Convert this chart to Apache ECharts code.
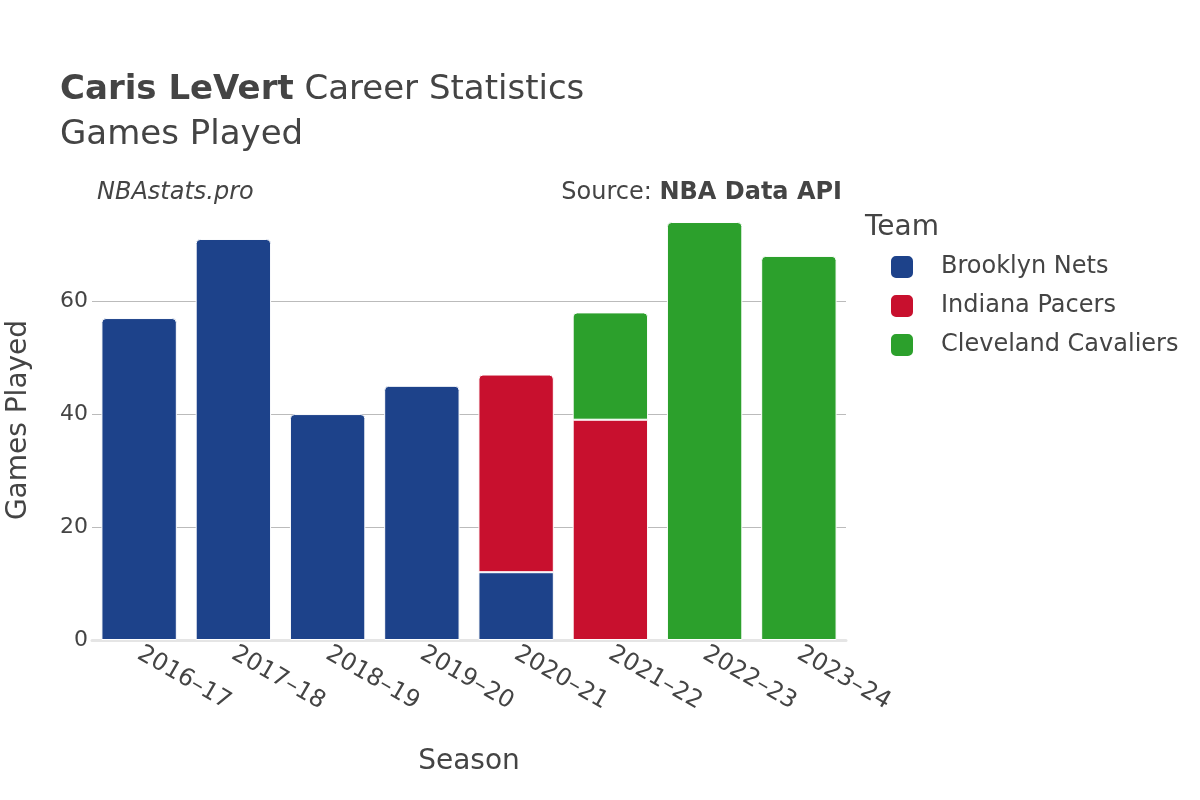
<!DOCTYPE html>
<html>
<head>
<meta charset="utf-8">
<script src="https://cdn.jsdelivr.net/npm/echarts@6/dist/echarts.min.js"></script>
<style>
html, body { margin: 0; padding: 0; background: #fff; }
#chart1 { width: 1200px; height: 800px; }
</style>
</head>
<body>
<div id="chart1"></div>
<script>
// data
var seasons = ['2016–17', '2017–18', '2018–19', '2019–20', '2020–21', '2021–22', '2022–23', '2023–24'];
var teams = ['Brooklyn Nets', 'Indiana Pacers', 'Cleveland Cavaliers'];
var netsGames = [57, 71, 40, 45, 12, null, null, null];
var pacersGames = [null, null, null, null, 35, 39, null, null];
var cavsGames = [null, null, null, null, null, 19, 74, 68];
var yTicks = [0, 20, 40, 60];

var teamColors = ['#1d428a', '#c8102e', '#2ca02c'];
var font = 'DejaVu Sans';
var allSeries = [netsGames, pacersGames, cavsGames];

// top segment of each stack gets rounded corners
function buildData(idx) {
    return allSeries[idx].map(function (v, i) {
        if (v == null) return '-';
        var isTop = true;
        for (var k = idx + 1; k < allSeries.length; k++) {
            if (allSeries[k][i] != null) isTop = false;
        }
        return { value: v, itemStyle: { borderRadius: isTop ? [4, 4, 0, 0] : 0 } };
    });
}

var chart = echarts.init(document.getElementById('chart1'));
var option = {
    animation: false,
    textStyle: { fontFamily: font },
    title: {
        left: 55,
        top: 63,
        text: '{b|Caris LeVert}{n| Career Statistics}\n{n|Games Played}',
        textStyle: {
            fontWeight: 'normal',
            rich: {
                b: { fontFamily: font, fontSize: 34, fontWeight: 'bold', color: '#444', lineHeight: 45 },
                n: { fontFamily: font, fontSize: 34, fontWeight: 'normal', color: '#444', lineHeight: 45 }
            }
        }
    },
    graphic: [
        { type: 'text', left: 97, top: 181, style: { text: 'NBAstats.pro', font: 'italic 24px "DejaVu Sans"', fill: '#444' } },
        { type: 'text', right: 358, top: 181, style: {
            text: '{n|Source: }{b|NBA Data API}',
            rich: {
                n: { fontFamily: font, fontSize: 24, fill: '#444', color: '#444' },
                b: { fontFamily: font, fontSize: 24, fontWeight: 'bold', fill: '#444', color: '#444' }
            }
        } },
        { type: 'text', left: 865, top: 214, style: { text: 'Team', font: '28px "DejaVu Sans"', fill: '#444' } }
    ],
    legend: {
        orient: 'vertical',
        left: 884,
        top: 249,
        itemWidth: 24,
        itemHeight: 24,
        itemGap: 13,
        icon: 'roundRect',
        data: teams,
        textStyle: { fontFamily: font, fontSize: 24, lineHeight: 24, color: '#444', padding: [0, 0, 0, 22] }
    },
    grid: { left: 92, right: 354, top: 200, bottom: 160, containLabel: false, outerBoundsMode: 'none' },
    xAxis: {
        type: 'category',
        data: seasons,
        name: 'Season',
        nameLocation: 'middle',
        nameGap: 108,
        nameTextStyle: { fontFamily: font, fontSize: 28, color: '#444' },
        axisLine: { lineStyle: { color: '#e5e5e5', width: 3 } },
        axisTick: { show: false },
        axisLabel: { rotate: -30, margin: 12, fontSize: 24, color: '#444', fontFamily: font, interval: 0 }
    },
    yAxis: {
        type: 'value',
        min: 0,
        max: 77.9,
        interval: 20,
        name: 'Games Played',
        nameLocation: 'middle',
        nameGap: 59,
        nameTextStyle: { fontFamily: font, fontSize: 28, color: '#444' },
        axisLine: { show: false },
        axisTick: { show: false },
        axisLabel: {
            margin: 4, fontSize: 22, color: '#444', fontFamily: font,
            showMaxLabel: false,
            formatter: function (v) { return yTicks.indexOf(v) >= 0 ? v : ''; }
        },
        splitLine: { show: true, showMinLine: false, showMaxLine: false, lineStyle: { color: '#bbbbbb', width: 1 } }
    },
    series: teams.map(function (t, i) {
        return {
            name: t,
            type: 'bar',
            stack: 'games',
            barCategoryGap: '20%',
            itemStyle: { color: teamColors[i], borderColor: '#fff', borderWidth: 1 },
            data: buildData(i)
        };
    })
};
chart.setOption(option);
</script>
</body>
</html>
